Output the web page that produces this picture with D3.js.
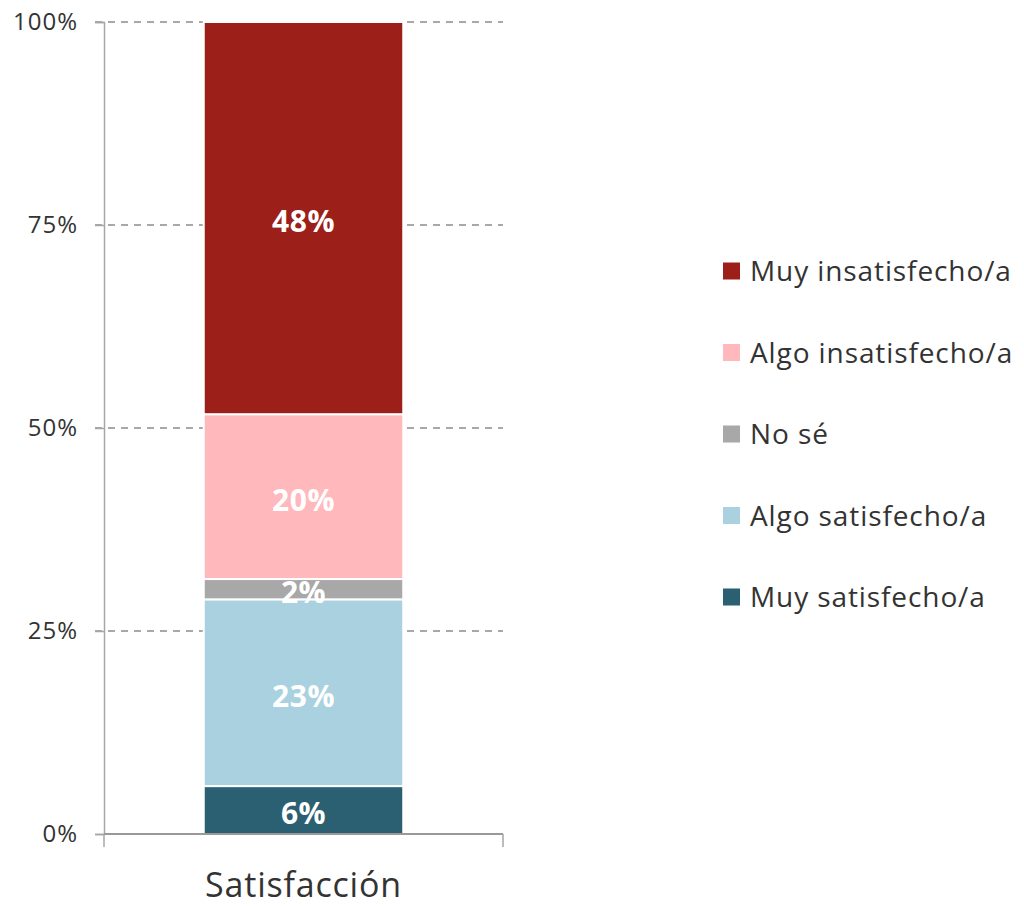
<!DOCTYPE html>
<html>
<head>
<meta charset="utf-8">
<script src="https://cdn.jsdelivr.net/npm/d3@7"></script>
<style>
  html, body { margin: 0; padding: 0; background: #fff; }
  svg { display: block; font-family: "Open Sans", "Noto Sans", sans-serif; }
</style>
</head>
<body>
<svg id="chart" width="1024" height="906"></svg>
<script>
const categories = ["Satisfacción"];
const seriesNames = ["Muy satisfecho/a", "Algo satisfecho/a", "No sé", "Algo insatisfecho/a", "Muy insatisfecho/a"];
const seriesValues = [5.9, 23.0, 2.5, 20.3, 48.3];
const seriesLabels = ["6%", "23%", "2%", "20%", "48%"];
const seriesColors = ["#2b5f72", "#aad1e0", "#a8a8a8", "#ffb9bc", "#9c1f1a"];
const yTicks = [0, 25, 50, 75, 100];
const yTickLabels = ["0%", "25%", "50%", "75%", "100%"];

const svg = d3.select("#chart");
const plotLeft = 104, plotRight = 503, plotTop = 22, plotBottom = 834;

const x = d3.scaleBand().domain(categories).range([plotLeft, plotRight]).paddingInner(0).paddingOuter(0.5);
const y = d3.scaleLinear().domain([0, 100]).range([plotBottom, plotTop]);

// gridlines
svg.append("g").selectAll("line").data(yTicks.filter(d => d > 0)).join("line")
  .attr("x1", plotLeft - 9).attr("x2", plotRight)
  .attr("y1", d => y(d)).attr("y2", d => y(d))
  .attr("stroke", "#8c8c8c").attr("stroke-width", 1.3)
  .attr("stroke-dasharray", "7,6");

// y axis
const yAxis = svg.append("g").attr("transform", `translate(${plotLeft},0)`)
  .call(d3.axisLeft(y).tickValues(yTicks).tickFormat((d, i) => yTickLabels[i]).tickSize(9).tickPadding(17));
yAxis.select(".domain").attr("stroke", "#a6a6a6").attr("stroke-width", 1.5);
yAxis.selectAll(".tick line").attr("stroke", "#a6a6a6").attr("stroke-width", 1.5);
yAxis.selectAll("text").attr("font-size", 24).attr("letter-spacing", 1).attr("fill", "#333")
  .attr("font-family", "\"Open Sans\", \"Noto Sans\", sans-serif");

// stacked data
const row = {cat: categories[0]};
seriesNames.forEach((n, i) => row[n] = seriesValues[i]);
const stack = d3.stack().keys(seriesNames)([row]);

const segs = svg.append("g");
stack.forEach((layer, i) => {
  layer.forEach(d => {
    segs.append("rect")
      .attr("x", x(d.data.cat)).attr("width", x.bandwidth())
      .attr("y", y(d[1])).attr("height", y(d[0]) - y(d[1]))
      .attr("fill", seriesColors[i])
      .attr("stroke", "#fff").attr("stroke-width", 2);
  });
});
stack.forEach((layer, i) => {
  layer.forEach(d => {
    segs.append("text")
      .attr("x", x(d.data.cat) + x.bandwidth() / 2)
      .attr("y", (y(d[0]) + y(d[1])) / 2 + 14)
      .attr("text-anchor", "middle")
      .attr("font-size", 30).attr("letter-spacing", 0.5).attr("font-weight", "bold").attr("fill", "#fff")
      .text(seriesLabels[i]);
  });
});

// x axis
const xAxis = svg.append("g").attr("transform", `translate(0,${plotBottom})`);
xAxis.append("line").attr("x1", plotLeft).attr("x2", plotRight).attr("y1", 0).attr("y2", 0)
  .attr("stroke", "#999").attr("stroke-width", 2);
[plotLeft, plotRight].forEach(px => xAxis.append("line").attr("x1", px).attr("x2", px).attr("y1", 0).attr("y2", 13)
  .attr("stroke", "#a6a6a6").attr("stroke-width", 1.5));
xAxis.selectAll("text.cat").data(categories).join("text").attr("class", "cat")
  .attr("x", d => x(d) + x.bandwidth() / 2).attr("y", 63)
  .attr("text-anchor", "middle").attr("font-size", 34).attr("letter-spacing", 0.8).attr("fill", "#333").text(d => d);

// legend (top-down reversed order)
const legendItems = seriesNames.map((n, i) => ({name: n, color: seriesColors[i]})).reverse();
const lg = svg.append("g").attr("transform", "translate(723,271)");
legendItems.forEach((d, i) => {
  const g = lg.append("g").attr("transform", `translate(0,${i * 81.5})`);
  g.append("rect").attr("x", 0).attr("y", -8.5).attr("width", 17).attr("height", 17).attr("fill", d.color);
  g.append("text").attr("x", 27).attr("y", 10).attr("font-size", 28).attr("letter-spacing", 0.9)
    .attr("fill", "#333").text(d.name);
});
</script>
</body>
</html>
